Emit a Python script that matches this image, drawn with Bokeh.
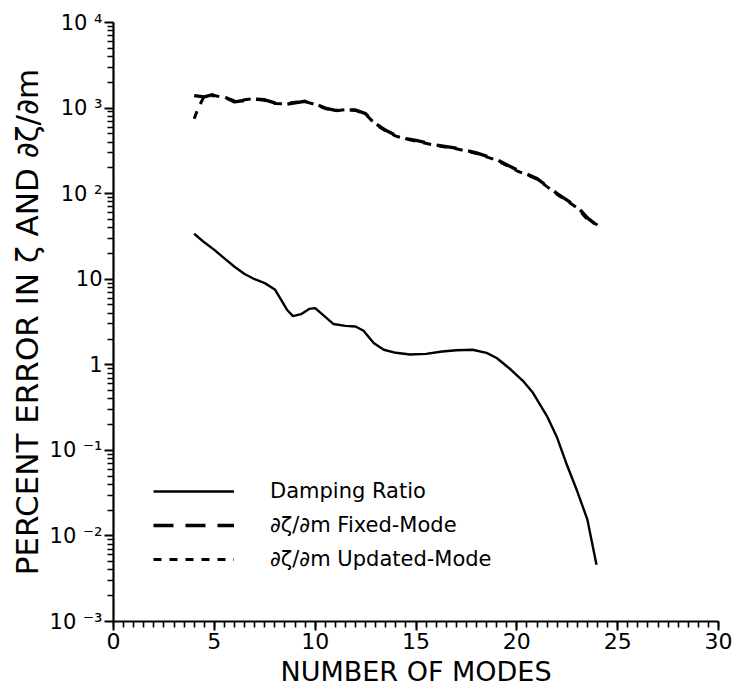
from bokeh.plotting import figure
from bokeh.models import (Legend, LegendItem, CustomJSTickFormatter,
                          SingleIntervalTicker, FixedTicker)
from bokeh.embed import file_html
from bokeh.resources import INLINE

# Percent error vs. number of retained modes
dr_modes = [4.0, 4.5, 5.0, 5.5, 6.0, 6.5, 7.0, 7.5, 8.0, 8.3, 8.6, 8.9, 9.3, 9.7,
            10.0, 10.4, 10.9, 11.5, 12.0, 12.4, 12.9, 13.4, 14.0, 14.7, 15.5,
            16.3, 17.0, 17.8, 18.5, 19.0, 19.7, 20.3, 20.8, 21.5, 22.0, 22.5,
            23.0, 23.5, 23.95]
damping_ratio = [34, 27, 22, 17.5, 14, 11.5, 10, 9.0, 7.6, 5.8, 4.4, 3.7, 3.9, 4.5,
                 4.6, 3.8, 3.0, 2.85, 2.8, 2.5, 1.8, 1.5, 1.38, 1.32, 1.34,
                 1.43, 1.48, 1.5, 1.38, 1.2, 0.88, 0.65, 0.47, 0.25, 0.14, 0.066,
                 0.033, 0.0155, 0.0046]

fm_modes = [4.0, 4.5, 5.0, 5.5, 6.0, 6.5, 7.0, 7.5, 8.0, 8.5, 9.0, 9.5, 10.0, 10.5,
            11.0, 11.5, 12.0, 12.5, 13.0, 13.5, 14.0, 14.5, 15.0, 16.0, 17.0,
            18.0, 19.0, 20.0, 21.0, 22.0, 23.0, 23.5, 24.0]
fixed_mode = [1400, 1350, 1450, 1350, 1180, 1230, 1270, 1250, 1150, 1100, 1150,
              1200, 1120, 1000, 940, 950, 950, 860, 660, 550, 480, 440, 420, 370,
              340, 300, 250, 190, 150, 100, 70, 52, 42]

um_modes = [4.0, 4.2, 4.5, 5.0, 5.5, 6.0, 6.5, 7.0, 7.5, 8.0, 8.5, 9.0, 9.5, 10.0,
            10.5, 11.0, 11.5, 12.0, 12.5, 13.0, 13.5, 14.0, 14.5, 15.0, 16.0,
            17.0, 18.0, 19.0, 20.0, 21.0, 22.0, 23.0, 23.5, 24.0]
updated_mode = [750, 1000, 1380, 1400, 1320, 1220, 1250, 1290, 1230, 1130, 1120,
                1170, 1190, 1100, 990, 930, 960, 940, 850, 640, 540, 470, 435,
                410, 365, 335, 295, 245, 185, 148, 98, 68, 50, 43]

y_exponents = [-3, -2, -1, 0, 1, 2, 3, 4]
y_tick_labels = ["10 \u207b\u00b3", "10 \u207b\u00b2", "10 \u207b\u00b9", "1", "10",
                 "10 \u00b2", "10 \u00b3", "10 \u2074"]

FONT = "DejaVu Sans"

p = figure(width=735, height=689, x_range=(0, 30), y_range=(1e-3, 1e4),
           y_axis_type="log", output_backend="svg", toolbar_location=None,
           min_border_left=113, min_border_right=17, min_border_top=22,
           min_border_bottom=66, background_fill_color="white",
           border_fill_color="white")
p.grid.visible = False
p.outline_line_color = None

r_dr = p.line(dr_modes, damping_ratio, line_color="black", line_width=2.4)
r_fm = p.line(fm_modes, fixed_mode, line_color="black", line_width=3.4,
              line_dash="20 12")
r_um = p.line(um_modes, updated_mode, line_color="black", line_width=3.0,
              line_dash="8 8")

# x axis
xa = p.xaxis[0]
xa.ticker = SingleIntervalTicker(interval=5, num_minor_ticks=10)
xa.axis_label = "NUMBER OF MODES"
xa.axis_label_text_font_size = "27px"
xa.axis_label_standoff = 4
xa.major_label_text_font_size = "22px"
xa.major_label_standoff = 2

# y axis
ya = p.yaxis[0]
ya.ticker = FixedTicker(ticks=[10.0 ** e for e in y_exponents],
                        minor_ticks=[k * 10.0 ** e for e in y_exponents[:-1]
                                     for k in range(2, 10)])
ya.formatter = CustomJSTickFormatter(
    args=dict(exps=y_exponents, labels=y_tick_labels),
    code="const i = exps.indexOf(Math.round(Math.log10(tick)));"
         "return i >= 0 ? labels[i] : '';")
ya.axis_label = "PERCENT ERROR IN \u03b6 AND \u2202\u03b6/\u2202m"
ya.axis_label_text_font_size = "31px"
ya.axis_label_standoff = 2
ya.major_label_text_font_size = "21px"
ya.major_label_standoff = 2

for ax in (xa, ya):
    ax.axis_line_width = 2.2
    ax.axis_line_color = "black"
    ax.major_tick_in = 0
    ax.major_tick_out = 9
    ax.minor_tick_in = 0
    ax.minor_tick_out = 6
    ax.major_tick_line_width = 2
    ax.minor_tick_line_width = 1.6
    ax.major_label_text_color = "black"
    ax.major_label_text_font = FONT
    ax.axis_label_text_color = "black"
    ax.axis_label_text_font = FONT
    ax.axis_label_text_font_style = "normal"

legend = Legend(items=[LegendItem(label="Damping Ratio", renderers=[r_dr]),
                       LegendItem(label="\u2202\u03b6/\u2202m Fixed-Mode", renderers=[r_fm]),
                       LegendItem(label="\u2202\u03b6/\u2202m Updated-Mode", renderers=[r_um])],
                location=(40, 50), glyph_width=81, glyph_height=24, label_height=24,
                spacing=10, label_standoff=36, padding=0, margin=0,
                border_line_alpha=0, background_fill_alpha=0,
                label_text_font=FONT, label_text_font_size="21px",
                label_text_color="black")
p.add_layout(legend)

open("out.html", "w").write(file_html(p, INLINE))
